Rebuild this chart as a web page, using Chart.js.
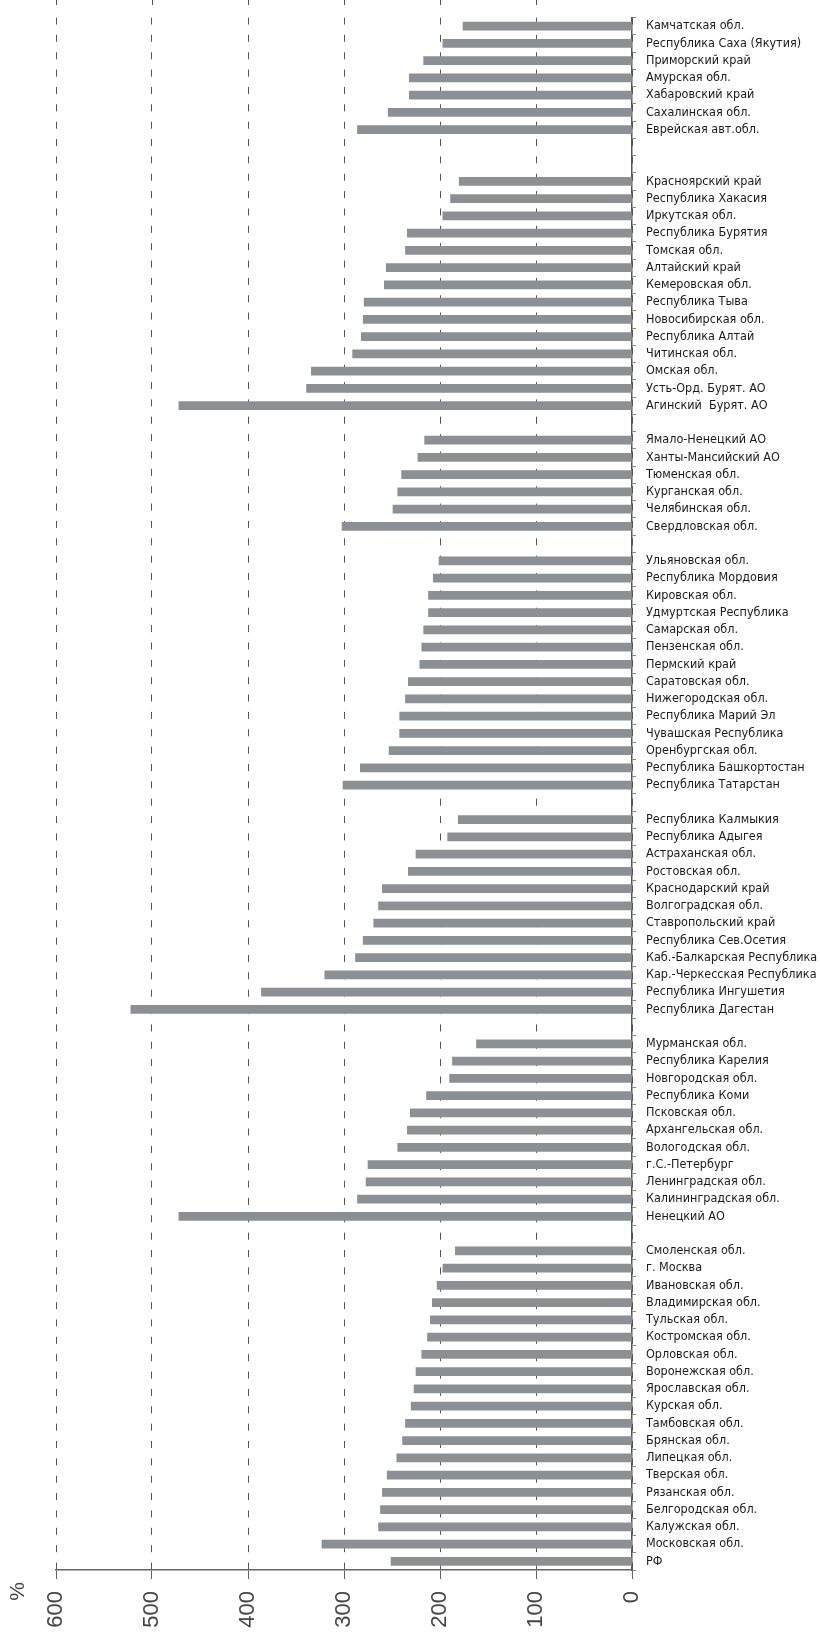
<!DOCTYPE html>
<html>
<head>
<meta charset="utf-8">
<script src="https://cdn.jsdelivr.net/npm/chart.js@4.4.1/dist/chart.umd.min.js"></script>
<style>
  html, body { margin: 0; padding: 0; background: #ffffff; }
  #wrap { position: relative; width: 820px; height: 1635px; }
</style>
</head>
<body>
<div id="wrap"><canvas id="c"></canvas></div>
<script>
// ---- Data (values in %) ----
const farEastLabels = ['Камчатская обл.', 'Республика Саха (Якутия)', 'Приморский край', 'Амурская обл.', 'Хабаровский край', 'Сахалинская обл.', 'Еврейская авт.обл.'];
const farEastValues = [176, 197, 217, 232, 232, 254, 286];

const siberiaLabels = ['Красноярский край', 'Республика Хакасия', 'Иркутская обл.', 'Республика Бурятия', 'Томская обл.', 'Алтайский край', 'Кемеровская обл.', 'Республика Тыва', 'Новосибирская обл.', 'Республика Алтай', 'Читинская обл.', 'Омская обл.', 'Усть-Орд. Бурят. АО', 'Агинский  Бурят. АО'];
const siberiaValues = [180, 189, 197, 234, 236, 256, 258, 279, 280, 282, 291, 334, 339, 472];

const uralLabels = ['Ямало-Ненецкий АО', 'Ханты-Мансийский АО', 'Тюменская обл.', 'Курганская обл.', 'Челябинская обл.', 'Свердловская обл.'];
const uralValues = [216, 223, 240, 244, 249, 302];

const volgaLabels = ['Ульяновская обл.', 'Республика Мордовия', 'Кировская обл.', 'Удмуртская Республика', 'Самарская обл.', 'Пензенская обл.', 'Пермский край', 'Саратовская обл.', 'Нижегородская обл.', 'Республика Марий Эл', 'Чувашская Республика', 'Оренбургская обл.', 'Республика Башкортостан', 'Республика Татарстан'];
const volgaValues = [201, 207, 212, 212, 217, 219, 221, 233, 236, 242, 242, 253, 283, 301];

const southLabels = ['Республика Калмыкия', 'Республика Адыгея', 'Астраханская обл.', 'Ростовская обл.', 'Краснодарский край', 'Волгоградская обл.', 'Ставропольский край', 'Республика Сев.Осетия', 'Каб.-Балкарская Республика', 'Кар.-Черкесская Республика', 'Республика Ингушетия', 'Республика Дагестан'];
const southValues = [181, 192, 225, 233, 260, 264, 269, 280, 288, 320, 386, 522];

const northWestLabels = ['Мурманская обл.', 'Республика Карелия', 'Новгородская обл.', 'Республика Коми', 'Псковская обл.', 'Архангельская обл.', 'Вологодская обл.', 'г.С.-Петербург', 'Ленинградская обл.', 'Калининградская обл.', 'Ненецкий АО'];
const northWestValues = [162, 187, 190, 214, 231, 234, 244, 275, 277, 286, 472];

const centreLabels = ['Смоленская обл.', 'г. Москва', 'Ивановская обл.', 'Владимирская обл.', 'Тульская обл.', 'Костромская обл.', 'Орловская обл.', 'Воронежская обл.', 'Ярославская обл.', 'Курская обл.', 'Тамбовская обл.', 'Брянская обл.', 'Липецкая обл.', 'Тверская обл.', 'Рязанская обл.', 'Белгородская обл.', 'Калужская обл.', 'Московская обл.', 'РФ'];
const centreValues = [184, 197, 203, 208, 210, 213, 219, 225, 227, 230, 236, 239, 245, 255, 260, 262, 264, 323, 251];

const axisMin = 0;
const axisMax = 600;
const axisStep = 100;
const unitLabel = '%';

// ---- Build the category list with empty slots between groups ----
const groups = [
  [farEastLabels, farEastValues, 2],
  [siberiaLabels, siberiaValues, 1],
  [uralLabels, uralValues, 1],
  [volgaLabels, volgaValues, 1],
  [southLabels, southValues, 1],
  [northWestLabels, northWestValues, 1],
  [centreLabels, centreValues, 0]
];
const labels = [];
const values = [];
groups.forEach(([l, v, gap]) => {
  l.forEach((name, i) => { labels.push(name); values.push(v[i]); });
  for (let g = 0; g < gap; g++) { labels.push(''); values.push(null); }
});

const extrasPlugin = {
  id: 'extras',
  afterDraw(chart) {
    const ctx = chart.ctx;
    const xs = chart.scales.x;
    ctx.save();
    // short dash of each grid line above the plot area
    ctx.strokeStyle = '#555';
    ctx.lineWidth = 1;
    xs.ticks.forEach(t => {
      if (t.value === axisMin) return;
      const px = Math.round(xs.getPixelForValue(t.value)) + 0.5;
      ctx.beginPath();
      ctx.moveTo(px, 0);
      ctx.lineTo(px, 5);
      ctx.stroke();
    });
    // unit label
    ctx.fillStyle = '#444';
    ctx.font = '21px "Liberation Sans", Arial, sans-serif';
    ctx.translate(18, 1582);
    ctx.rotate(-Math.PI / 2);
    ctx.textAlign = 'right';
    ctx.textBaseline = 'middle';
    ctx.fillText(unitLabel, 0, 0);
    ctx.restore();
  }
};

new Chart(document.getElementById('c'), {
  type: 'bar',
  data: {
    labels: labels,
    datasets: [{
      data: values,
      backgroundColor: '#8b9095',
      borderWidth: 0,
      barThickness: 8
    }]
  },
  options: {
    indexAxis: 'y',
    responsive: true,
    maintainAspectRatio: false,
    animation: false,
    layout: { padding: { left: 56, top: 9, right: 0, bottom: 0 } },
    plugins: { legend: { display: false }, tooltip: { enabled: false } },
    scales: {
      x: {
        type: 'linear',
        position: 'bottom',
        reverse: true,
        min: axisMin,
        max: axisMax,
        afterFit(s) { s.height = 65; },
        ticks: {
          stepSize: axisStep,
          minRotation: 90,
          maxRotation: 90,
          padding: 12,
          color: '#444',
          font: { family: '"Liberation Sans", Arial, sans-serif', size: 22 }
        },
        grid: {
          color: '#555',
          lineWidth: 1,
          tickLength: 9,
          tickColor: '#666',
          tickBorderDash: []
        },
        border: { display: true, color: '#666', width: 1.5, dash: [7, 10.36] }
      },
      y: {
        type: 'category',
        position: 'right',
        offset: true,
        afterFit(s) { s.width = 188; },
        ticks: {
          autoSkip: false,
          padding: 10,
          color: '#1a1a1a',
          font: { family: '"Liberation Sans Narrow", "DejaVu Sans Condensed", sans-serif', size: 12.5 }
        },
        grid: {
          offset: true,
          drawOnChartArea: false,
          tickLength: 4,
          color: '#888'
        },
        border: { display: true, color: '#555', width: 1.5 }
      }
    }
  },
  plugins: [extrasPlugin]
});
</script>
</body>
</html>
